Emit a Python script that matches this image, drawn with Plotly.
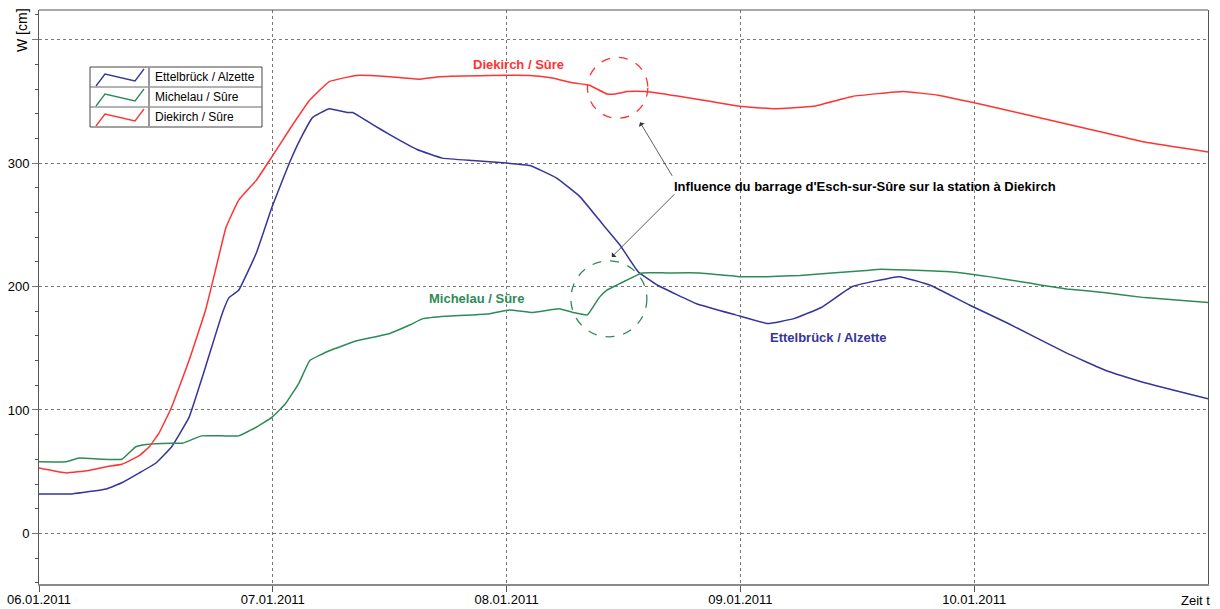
import pandas as pd
import plotly.graph_objects as go

# ---------------- data (hours since 06.01.2011 00:00, water level in cm) ----------------
ett_hours = [0, 3.4, 6.9, 8.5, 10.3, 12.0, 13.6, 15.4, 17.1, 18.8, 19.5, 20.5, 22.3, 23.9,
             25.7, 26.8, 28.1, 29.8, 31.6, 32.2, 34.3, 36.0, 38.8, 41.4, 44.5, 48.0, 50.4,
             53.1, 55.5, 57.8, 59.6, 61.5, 63.5, 67.5, 71.5, 74.8, 77.5, 80.3, 83.5, 88.3,
             91.5, 95.5, 99.5, 105.5, 109.5, 113.5, 120.0]
ett_values = [32, 32, 36, 41, 49, 57, 70, 94, 135, 178, 191, 197, 227, 264,
              300, 319, 337, 344, 341, 341, 331, 323, 311, 304, 302, 300, 298,
              288, 273, 251, 234, 212, 201, 186, 177, 170, 174, 183, 200, 208,
              201, 185, 170, 146, 132, 122, 109]

mic_hours = [0, 2.8, 4.1, 8.5, 9.9, 11.0, 13.6, 14.7, 16.7, 18.8, 20.5, 22.3, 23.9, 25.3,
             26.7, 27.8, 29.8, 32.6, 36.0, 38.1, 39.4, 41.8, 44.5, 46.3, 48.3, 50.7, 53.4,
             54.8, 56.3, 57.5, 58.3, 60.3, 61.9, 64.4, 67.8, 71.9, 74.7, 78.1, 81.4, 84.9,
             86.4, 93.5, 97.5, 101.5, 105.5, 109.5, 113.5, 120.0]
mic_values = [58, 58, 61, 60, 70, 72, 73, 73, 79, 79, 79, 86, 94, 105,
              122, 140, 148, 156, 162, 169, 174, 176, 177, 178, 181, 179, 182,
              179, 177, 191, 197, 205, 211, 211, 211, 208, 208, 209, 211, 213,
              214, 212, 208, 203, 198, 195, 191, 187]

die_hours = [0, 2.8, 5.1, 6.9, 8.5, 10.3, 11.3, 12.3, 13.6, 15.4, 17.1, 18.2, 19.2, 20.5,
             22.3, 23.9, 25.7, 27.8, 29.8, 32.6, 36.0, 39.1, 41.1, 46.3, 50.4, 52.7, 54.8,
             56.5, 58.3, 59.2, 60.4, 62.2, 66.6, 71.9, 75.5, 79.5, 83.5, 88.7, 92.3, 95.9,
             101.5, 107.5, 113.5, 120.0]
die_values = [53, 49, 51, 54, 56, 63, 70, 81, 102, 140, 181, 216, 248, 270,
              286, 305, 327, 351, 366, 371, 370, 368, 370, 371, 371, 369, 365,
              363, 356, 356, 358, 358, 353, 346, 344, 346, 354, 358, 355, 349,
              339, 328, 317, 309]

series_names = ["Ettelbrück / Alzette", "Michelau / Sûre", "Diekirch / Sûre"]
series_colors = ["#35359a", "#2e8b57", "#ff3333"]

day_ticks = ["2011-01-06", "2011-01-07", "2011-01-08", "2011-01-09", "2011-01-10"]
day_labels = ["06.01.2011", "07.01.2011", "08.01.2011", "09.01.2011", "10.01.2011"]
y_ticks = [0, 100, 200, 300, 400]
y_labels = ["0", "100", "200", "300", ""]

BASE = pd.Timestamp("2011-01-06 00:00")


def to_time(hours):
    return [BASE + pd.Timedelta(hours=h) for h in hours]


def t(h):
    return BASE + pd.Timedelta(hours=h)


# ---------------- figure ----------------
W, H = 1220, 609
ML, MR, MT, MB = 39, 12, 10, 25
PW, PH = W - ML - MR, H - MT - MB


def px(x):
    return (x - ML) / PW


def py(y):
    return (H - MB - y) / PH


fig = go.Figure()
for hrs, vals, name, col in [
    (ett_hours, ett_values, series_names[0], series_colors[0]),
    (mic_hours, mic_values, series_names[1], series_colors[1]),
    (die_hours, die_values, series_names[2], series_colors[2]),
]:
    fig.add_trace(go.Scatter(x=to_time(hrs), y=vals, mode="lines", name=name,
                             line=dict(color=col, width=1.5, shape="spline", smoothing=0.3),
                             showlegend=False))

font = "Liberation Sans, Arial, sans-serif"

fig.update_layout(
    width=W, height=H,
    margin=dict(l=ML, r=MR, t=MT, b=MB, autoexpand=False),
    paper_bgcolor="white", plot_bgcolor="white",
    font=dict(family=font, size=13, color="black"),
    xaxis=dict(
        type="date", automargin=False,
        range=[BASE, BASE + pd.Timedelta(days=5)],
        tickvals=day_ticks, ticktext=day_labels,
        showgrid=True, gridcolor="#777", griddash="dot", gridwidth=1,
        showline=True, linecolor="#8a8a8a", linewidth=2,
        ticks="outside", ticklen=6, tickcolor="#555",
        ticklabelstandoff=-4,
        zeroline=False,
        tickfont=dict(size=13),
    ),
    yaxis=dict(
        automargin=False,
        range=[-41, 424],
        tickvals=y_ticks, ticktext=y_labels,
        showgrid=True, gridcolor="#777", griddash="dot", gridwidth=1,
        showline=True, linecolor="#555", linewidth=1, mirror=True,
        ticks="outside", ticklen=6, tickcolor="#777",
        minor=dict(dtick=20, ticks="outside", ticklen=3, tickcolor="#555", showgrid=False),
        zeroline=False,
        tickfont=dict(size=13),
    ),
)

shapes = []
# top border
shapes.append(dict(type="line", xref="paper", yref="paper", x0=0, x1=1, y0=1, y1=1,
                   line=dict(color="#555", width=1)))

# dashed circles
shapes.append(dict(type="circle", xref="x", yref="y",
                   x0=t(59.4 - 3.1), x1=t(59.4 + 3.1), y0=361 - 24.7, y1=361 + 24.7,
                   line=dict(color="#ff3333", width=1.3, dash="dash")))
shapes.append(dict(type="circle", xref="x", yref="y",
                   x0=t(58.5 - 3.9), x1=t(58.5 + 3.9), y0=190 - 30.8, y1=190 + 30.8,
                   line=dict(color="#2e8b57", width=1.3, dash="dash")))

# custom legend box
LX0, LX1, LY0, ROW, DIV = 90, 262, 67, 20, 149
shapes.append(dict(type="rect", xref="paper", yref="paper",
                   x0=px(LX0), x1=px(LX1), y0=py(LY0), y1=py(LY0 + 3 * ROW),
                   line=dict(color="#444", width=1), fillcolor="white", layer="above"))
for i in (1, 2):
    shapes.append(dict(type="line", xref="paper", yref="paper",
                       x0=px(LX0), x1=px(LX1), y0=py(LY0 + i * ROW), y1=py(LY0 + i * ROW),
                       line=dict(color="#666", width=1), layer="above"))
shapes.append(dict(type="line", xref="paper", yref="paper",
                   x0=px(DIV), x1=px(DIV), y0=py(LY0), y1=py(LY0 + 3 * ROW),
                   line=dict(color="#999", width=2), layer="above"))
for i, col in enumerate(series_colors):
    top = LY0 + i * ROW
    pts = [(96, top + 19), (105, top + 7), (135, top + 14), (144, top + 2)]
    path = "M " + " L ".join(f"{px(a):.5f},{py(b):.5f}" for a, b in pts)
    shapes.append(dict(type="path", xref="paper", yref="paper", path=path,
                       line=dict(color=col, width=1.3), layer="above"))
fig.update_layout(shapes=shapes)

ann = []
for i, name in enumerate(series_names):
    ann.append(dict(xref="paper", yref="paper", x=px(153), y=py(LY0 + i * ROW + 10),
                    text=name, showarrow=False, xanchor="left", yanchor="middle",
                    font=dict(size=12, color="black", family=font)))

# series labels
ann.append(dict(x=t(49.2), y=379.6, text="<b>Diekirch / Sûre</b>", showarrow=False,
                font=dict(size=13, color="#ff3333")))
ann.append(dict(x=t(44.9), y=190, text="<b>Michelau / Sûre</b>", showarrow=False,
                font=dict(size=13, color="#2e8b57")))
ann.append(dict(x=t(81.0), y=159, text="<b>Ettelbrück / Alzette</b>", showarrow=False,
                font=dict(size=13, color="#35359a")))
ann.append(dict(x=t(65.0), y=281.4, text="<b>Influence du barrage d'Esch-sur-Sûre sur la station à Diekirch</b>",
                showarrow=False, xanchor="left", font=dict(size=13, color="black")))
# arrows
ann.append(dict(x=t(61.7), y=333, text="", showarrow=True, ax=33, ay=55,
                arrowhead=1, arrowsize=1.4, arrowwidth=0.8, arrowcolor="#333"))
ann.append(dict(x=t(58.8), y=224, text="", showarrow=True, ax=64, ay=-64,
                arrowhead=1, arrowsize=1.4, arrowwidth=0.8, arrowcolor="#333"))

# axis titles
ann.append(dict(xref="paper", yref="paper", x=0, y=py(30), xshift=-17, text="W [cm]",
                showarrow=False, textangle=-90, xanchor="center", yanchor="middle",
                font=dict(size=14, color="black")))
ann.append(dict(xref="paper", yref="paper", x=1, y=py(600), xshift=4, text="Zeit t",
                showarrow=False, xanchor="right", yanchor="middle", font=dict(size=13, color="black")))
fig.update_layout(annotations=ann)

fig.write_html("out.html", config={"displayModeBar": False},
               post_script="document.body.style.margin='0';document.body.style.padding='0';")
